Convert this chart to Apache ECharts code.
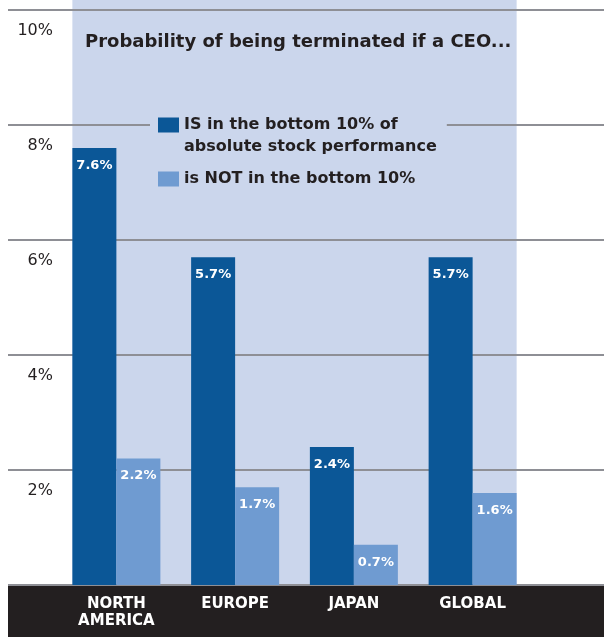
<!DOCTYPE html>
<html><head><meta charset="utf-8">
<script src="https://cdn.jsdelivr.net/npm/echarts@6/dist/echarts.min.js"></script>
<style>html,body{margin:0;padding:0;background:#fff}#c{width:604px;height:637px}</style>
</head><body><div id="c"></div>
<script>
const categories = ['NORTH\nAMERICA', 'EUROPE', 'JAPAN', 'GLOBAL'];
const seriesNames = ['IS in the bottom 10% of\nabsolute stock performance', 'is NOT in the bottom 10%'];
const bottomValues = [7.6, 5.7, 2.4, 5.7];
const notBottomValues = [2.2, 1.7, 0.7, 1.6];
const yTicks = [0, 2, 4, 6, 8, 10];

const FONT = '"DejaVu Sans", sans-serif';
const TXT = '#231f20';
const chart = echarts.init(document.getElementById('c'), null, {renderer: 'canvas'});

const option = {
  animation: false,
  backgroundColor: '#fff',
  title: {
    text: 'Probability of being terminated if a CEO...',
    left: 85, top: 33, padding: 0,
    textStyle: {fontFamily: FONT, fontSize: 18, fontWeight: 'bold', color: TXT}
  },
  legend: {
    orient: 'vertical', left: 150, top: 88,
    padding: [4, 10, 4, 8], itemGap: 10,
    backgroundColor: '#cbd6ec',
    itemWidth: 21, itemHeight: 15, icon: 'rect',
    formatter: name => name === seriesNames[0] ? '\u00a0\n' + name : name,
    textStyle: {fontFamily: FONT, fontSize: 16, fontWeight: 'bold', color: TXT, lineHeight: 22},
    data: seriesNames
  },
  grid: [
    {left: 8, right: 0, top: 10, bottom: 52},
    {left: 57, right: 72, top: 10, bottom: 52}
  ],
  xAxis: [
    {type: 'category', gridIndex: 0, data: categories, show: false},
    {type: 'category', gridIndex: 1, data: categories,
     axisLine: {show: false}, axisTick: {show: false},
     axisLabel: {color: '#fff', fontFamily: FONT, fontSize: 15, fontWeight: 'bold', lineHeight: 17, margin: 11, verticalAlign: 'top'}}
  ],
  yAxis: [
    {type: 'value', gridIndex: 0, min: yTicks[0], max: yTicks[yTicks.length - 1], interval: 2,
     axisLine: {show: false}, axisTick: {show: false},
     splitLine: {show: true, lineStyle: {color: '#8e8f95', width: 2}},
     axisLabel: {inside: true, align: 'right', margin: 45, verticalAlign: 'top', padding: [12, 0, 0, 0],
       color: TXT, fontFamily: FONT, fontSize: 16, fontWeight: 'normal', lineHeight: 17,
       formatter: v => v === 0 ? '' : v + '%'}},
    {type: 'value', gridIndex: 1, min: yTicks[0], max: yTicks[yTicks.length - 1], interval: 2, show: false, splitLine: {show: false}}
  ],
  series: [
    {name: seriesNames[0], type: 'bar', xAxisIndex: 1, yAxisIndex: 1, data: bottomValues,
     barWidth: 44, barGap: '0%', itemStyle: {color: '#0b5797'},
     label: {show: true, position: 'insideTop', distance: 11, formatter: '{c}%', color: '#fff', fontFamily: FONT, fontSize: 13, fontWeight: 'bold'}},
    {name: seriesNames[1], type: 'bar', xAxisIndex: 1, yAxisIndex: 1, data: notBottomValues,
     barWidth: 44, barGap: '0%', itemStyle: {color: '#6f9bd1'},
     label: {show: true, position: 'insideTop', distance: 11, formatter: '{c}%', color: '#fff', fontFamily: FONT, fontSize: 13, fontWeight: 'bold'}}
  ]
};
chart.setOption(option);

// decorative panel behind the bars, spanning from first bar's left edge to last bar's right edge
const c0 = chart.convertToPixel({xAxisIndex: 1, yAxisIndex: 1}, [0, 0]);
const c3 = chart.convertToPixel({xAxisIndex: 1, yAxisIndex: 1}, [categories.length - 1, 0]);
const panelLeft = c0[0] - 44, panelRight = c3[0] + 44, baseY = c0[1];
chart.setOption({
  graphic: [
    {type: 'rect', z: -10, shape: {x: panelLeft, y: 0, width: panelRight - panelLeft, height: baseY}, style: {fill: '#cbd6ec'}},
    {type: 'rect', z: -10, shape: {x: 8, y: baseY + 1, width: 604 - 8, height: 637 - baseY}, style: {fill: '#231f20'}}
  ]
});
</script></body></html>
